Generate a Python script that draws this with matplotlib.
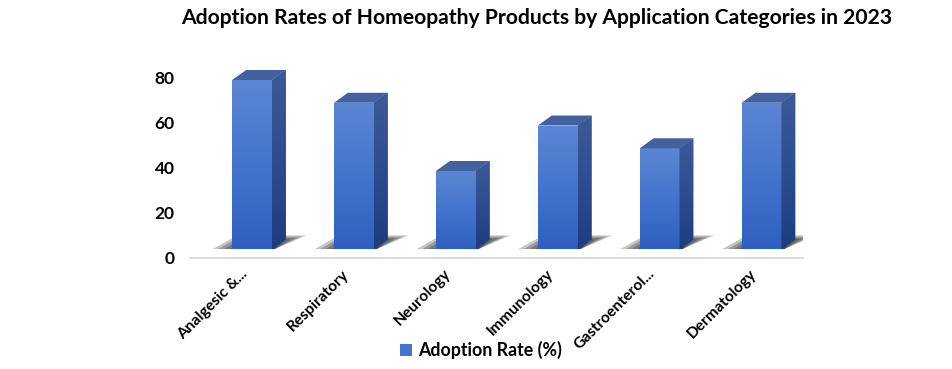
import numpy as np
import matplotlib
matplotlib.use("Agg")
import matplotlib.pyplot as plt
from matplotlib.patches import Polygon
from matplotlib.colors import LinearSegmentedColormap
from matplotlib.transforms import ScaledTranslation

categories = ['Analgesic &...', 'Respiratory', 'Neurology', 'Immunology',
              'Gastroenterol...', 'Dermatology']
adoption = [80, 70, 40, 60, 50, 70]
yticks = [0, 20, 40, 60, 80]

plt.rcParams['font.family'] = ['Lato', 'DejaVu Sans']
plt.rcParams['font.weight'] = 'bold'

W, H = 953, 369
fig = plt.figure(figsize=(W / 100, H / 100), dpi=100)
ax = fig.add_axes([190 / W, (H - 258) / H, (803 - 190) / W, (258 - 60) / H])

x = np.arange(len(categories))
floor = 5.5          # front floor level in data units (3D look)
bw = 0.39
dx, dy = 0.137, 4.4  # depth offset of the 3D box

front_cm = LinearSegmentedColormap.from_list('f', ['#2f60c0', '#4474cc', '#5c86d3'])
side_cm = LinearSegmentedColormap.from_list('s', ['#1e3d80', '#2d4d90', '#3d5a98'])
grad = np.linspace(0, 1, 64).reshape(-1, 1)

# shadows on the floor (layered to fake a blur)
for xi in x:
    L, R = xi - bw / 2, xi + bw / 2
    for k in range(6):
        s = k * 0.022
        poly = Polygon([(L - 0.19 + s * 2.5, floor + 0.2), (R + 0.03, floor + 0.2),
                        (R + 0.34 - s * 2.5, floor + 6.2 - s * 25),
                        (L + 0.05 + s, floor + 6.2 - s * 25)],
                       closed=True, facecolor='#111111', edgecolor='none', alpha=0.24, zorder=1)
        ax.add_patch(poly)

bars = ax.bar(x, np.array(adoption) - floor, bottom=floor, width=bw,
              color='#4474cc', zorder=3)
for b, v in zip(bars, adoption):
    L = b.get_x()
    R = L + b.get_width()
    im = ax.imshow(grad, cmap=front_cm, origin='lower', aspect='auto',
                   extent=(L, R, floor, v), zorder=3.5)
    im.set_clip_path(b)
    side = Polygon([(R, floor), (R + dx, floor + dy), (R + dx, v + dy), (R, v)],
                   closed=True, facecolor='#2d4d90', edgecolor='none', zorder=3)
    ax.add_patch(side)
    im2 = ax.imshow(grad, cmap=side_cm, origin='lower', aspect='auto',
                    extent=(R, R + dx, floor, v + dy), zorder=3.5)
    im2.set_clip_path(side)
    top = Polygon([(L, v), (R, v), (R + dx, v + dy), (L + dx, v + dy)],
                  closed=True, facecolor='#43609f', edgecolor='none', zorder=4)
    ax.add_patch(top)

ax.set_xlim(-0.608, 5.407)
ax.set_ylim(1.76, 88.8)

for s in ['top', 'right', 'left']:
    ax.spines[s].set_visible(False)
ax.spines['bottom'].set_color('#d9d9d9')
ax.spines['bottom'].set_linewidth(1.3)
ax.set_yticks([])
ax.set_xticks(x)
ax.set_xticklabels(categories, rotation=45, ha='right', va='center',
                   rotation_mode='anchor', fontsize=11.2, fontweight='bold')
ax.tick_params(axis='x', length=0, pad=10)
shift = ScaledTranslation(-7 / 100, 0, fig.dpi_scale_trans)
for t in ax.get_xticklabels():
    t.set_transform(t.get_transform() + shift)

sec = ax.secondary_yaxis('left', functions=(lambda v: (v - 1.76) * 1.011,
                                             lambda l: l / 1.011 + 1.76))
sec.set_yticks(yticks)
sec.spines['left'].set_visible(False)
sec.tick_params(length=0, pad=11, labelsize=12.5)
for t in sec.get_yticklabels():
    t.set_fontweight('bold')

fig.text(537 / W, 1 - 18 / H, 'Adoption Rates of Homeopathy Products by Application Categories in 2023',
         ha='center', va='center', fontsize=15.2, fontweight='bold')

ax.legend([bars[0]], ['Adoption Rate (%)'], loc='center', bbox_to_anchor=(481 / W, 1 - 350 / H),
          bbox_transform=fig.transFigure, frameon=False, fontsize=12.8,
          handlelength=0.7, handleheight=0.7, handletextpad=0.35, borderaxespad=0)

fig.savefig('out.png', dpi=100)
